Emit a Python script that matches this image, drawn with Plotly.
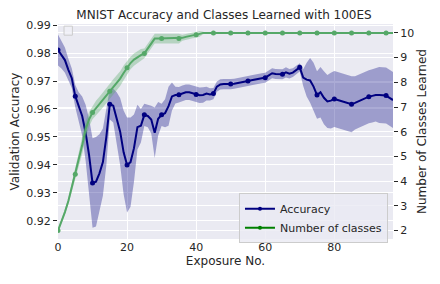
import numpy as np
import plotly.graph_objects as go
from plotly.subplots import make_subplots

exposure = list(range(98))

accuracy = [
    0.9811, 0.9795, 0.9775, 0.9740, 0.9710, 0.9646, 0.9610, 0.9575, 0.9515, 0.9435,
    0.9335, 0.9340, 0.9370, 0.9410, 0.9500, 0.9617, 0.9612, 0.9570, 0.9519, 0.9445,
    0.9400, 0.9410, 0.9460, 0.9535, 0.9540, 0.9579, 0.9575, 0.9562, 0.9515, 0.9565,
    0.9579, 0.9585, 0.9610, 0.9645, 0.9650, 0.9651, 0.9656, 0.9660, 0.9660, 0.9656,
    0.9652, 0.9649, 0.9650, 0.9655, 0.9652, 0.9655, 0.9680, 0.9688, 0.9689, 0.9688,
    0.9689, 0.9690, 0.9692, 0.9694, 0.9697, 0.9700, 0.9703, 0.9706, 0.9708, 0.9710,
    0.9712, 0.9720, 0.9728, 0.9725, 0.9724, 0.9724, 0.9731, 0.9726, 0.9730, 0.9740,
    0.9749, 0.9712, 0.9705, 0.9702, 0.9680, 0.9650, 0.9660, 0.9640, 0.9627, 0.9630,
    0.9636, 0.9632, 0.9628, 0.9624, 0.9620, 0.9617, 0.9622, 0.9628, 0.9634, 0.9640,
    0.9644, 0.9647, 0.9650, 0.9650, 0.9649, 0.9648, 0.9640, 0.9632,
]

accuracy_std = [
    0.0055, 0.0050, 0.0045, 0.0040, 0.0035, 0.0040, 0.0050, 0.0070, 0.0100, 0.0130,
    0.0160, 0.0160, 0.0140, 0.0120, 0.0100, 0.0055, 0.0060, 0.0090, 0.0120, 0.0150,
    0.0170, 0.0160, 0.0120, 0.0080, 0.0060, 0.0040, 0.0040, 0.0050, 0.0090, 0.0060,
    0.0040, 0.0050, 0.0070, 0.0050, 0.0030, 0.0028, 0.0028, 0.0028, 0.0028, 0.0028,
    0.0028, 0.0028, 0.0028, 0.0025, 0.0022, 0.0020, 0.0018, 0.0018, 0.0018, 0.0018,
    0.0018, 0.0018, 0.0018, 0.0018, 0.0018, 0.0018, 0.0018, 0.0018, 0.0018, 0.0018,
    0.0018, 0.0018, 0.0018, 0.0018, 0.0018, 0.0018, 0.0018, 0.0017, 0.0016, 0.0015,
    0.0015, 0.0030, 0.0060, 0.0080, 0.0085, 0.0085, 0.0090, 0.0095, 0.0095, 0.0100,
    0.0100, 0.0100, 0.0100, 0.0100, 0.0100, 0.0100, 0.0095, 0.0095, 0.0095, 0.0095,
    0.0095, 0.0095, 0.0095, 0.0100, 0.0100, 0.0100, 0.0100, 0.0100,
]

classes = [
    2.00, 2.35, 2.75, 3.20, 3.75, 4.28, 4.85, 5.45, 6.10, 6.50,
    6.78, 6.95, 7.12, 7.28, 7.45, 7.64, 7.82, 7.98, 8.15, 8.38,
    8.59, 8.78, 8.92, 9.02, 9.10, 9.17, 9.38, 9.60, 9.77, 9.77,
    9.77, 9.77, 9.77, 9.77, 9.77, 9.77, 9.80, 9.84, 9.88, 9.90,
    9.92, 9.96, 10.0, 10.0, 10.0, 10.0, 10.0, 10.0, 10.0, 10.0,
    10.0, 10.0, 10.0, 10.0, 10.0, 10.0, 10.0, 10.0, 10.0, 10.0,
    10.0, 10.0, 10.0, 10.0, 10.0, 10.0, 10.0, 10.0, 10.0, 10.0,
    10.0, 10.0, 10.0, 10.0, 10.0, 10.0, 10.0, 10.0, 10.0, 10.0,
    10.0, 10.0, 10.0, 10.0, 10.0, 10.0, 10.0, 10.0, 10.0, 10.0,
    10.0, 10.0, 10.0, 10.0, 10.0, 10.0, 10.0, 10.0,
]

classes_std = [
    0.05, 0.08, 0.10, 0.12, 0.15, 0.20, 0.30, 0.35, 0.35, 0.30,
    0.27, 0.30, 0.30, 0.30, 0.30, 0.30, 0.30, 0.30, 0.30, 0.30,
    0.28, 0.25, 0.25, 0.25, 0.25, 0.20, 0.20, 0.20, 0.20, 0.20,
    0.20, 0.20, 0.20, 0.20, 0.20, 0.20, 0.12, 0.12, 0.12, 0.12,
    0.12, 0.12, 0.05, 0.0, 0.0, 0.0, 0.0, 0.0, 0.0, 0.0,
    0.0, 0.0, 0.0, 0.0, 0.0, 0.0, 0.0, 0.0, 0.0, 0.0,
    0.0, 0.0, 0.0, 0.0, 0.0, 0.0, 0.0, 0.0, 0.0, 0.0,
    0.0, 0.0, 0.0, 0.0, 0.0, 0.0, 0.0, 0.0, 0.0, 0.0,
    0.0, 0.0, 0.0, 0.0, 0.0, 0.0, 0.0, 0.0, 0.0, 0.0,
    0.0, 0.0, 0.0, 0.0, 0.0, 0.0, 0.0, 0.0,
]

x_ticks = [0, 20, 40, 60, 80]
left_ticks = [0.92, 0.93, 0.94, 0.95, 0.96, 0.97, 0.98, 0.99]
right_ticks = [2, 3, 4, 5, 6, 7, 8, 9, 10]

NAVY = "#000080"
GREEN = "#55A868"
TXT = "#262626"
FONT = "DejaVu Sans"

acc = np.array(accuracy)
acc_s = np.array(accuracy_std)
cls = np.array(classes)
cls_s = np.array(classes_std)
xs = np.array(exposure)

fig = make_subplots(specs=[[{"secondary_y": True}]])

# accuracy band
fig.add_trace(go.Scatter(x=xs, y=acc + acc_s, mode="lines", line=dict(width=0),
                         showlegend=False, hoverinfo="skip"), secondary_y=False)
fig.add_trace(go.Scatter(x=xs, y=acc - acc_s, mode="lines", line=dict(width=0),
                         fill="tonexty", fillcolor="rgba(0,0,128,0.33)",
                         showlegend=False, hoverinfo="skip"), secondary_y=False)
fig.add_trace(go.Scatter(x=xs, y=acc, mode="lines", line=dict(color=NAVY, width=2),
                         showlegend=False), secondary_y=False)
fig.add_trace(go.Scatter(x=xs[::5], y=acc[::5], mode="markers",
                         marker=dict(color=NAVY, size=5), showlegend=False),
              secondary_y=False)

# classes band
fig.add_trace(go.Scatter(x=xs, y=cls + cls_s, mode="lines", line=dict(width=0),
                         showlegend=False, hoverinfo="skip"), secondary_y=True)
fig.add_trace(go.Scatter(x=xs, y=cls - cls_s, mode="lines", line=dict(width=0),
                         fill="tonexty", fillcolor="rgba(85,168,104,0.35)",
                         showlegend=False, hoverinfo="skip"), secondary_y=True)
fig.add_trace(go.Scatter(x=xs, y=cls, mode="lines", line=dict(color=GREEN, width=2),
                         showlegend=False), secondary_y=True)
fig.add_trace(go.Scatter(x=xs[::5], y=cls[::5], mode="markers",
                         marker=dict(color=GREEN, size=5), showlegend=False),
              secondary_y=True)

# legend entries
fig.add_trace(go.Scatter(x=[None], y=[None], mode="lines+markers", name="Accuracy",
                         line=dict(color=NAVY, width=2), marker=dict(color=NAVY, size=4)),
              secondary_y=False)
fig.add_trace(go.Scatter(x=[None], y=[None], mode="lines+markers", name="Number of classes",
                         line=dict(color="green", width=2), marker=dict(color="green", size=4)),
              secondary_y=False)

# the page body has an 8px margin, so the figure is 8px smaller and shifted
fig.update_layout(
    width=432, height=276,
    margin=dict(l=50, r=47, t=16, b=45),
    paper_bgcolor="white",
    plot_bgcolor="#EAEAF2",
    font=dict(family=FONT, size=11, color=TXT),
    title=dict(text="MNIST Accuracy and Classes Learned with 100ES",
               x=0.5, xanchor="center", y=0.976, yanchor="middle",
               font=dict(size=12, color=TXT)),
    legend=dict(x=0.985, y=-0.02, xanchor="right", yanchor="bottom",
                traceorder="normal",
                bgcolor="rgba(234,234,242,0.8)", bordercolor="#cccccc", borderwidth=1,
                font=dict(size=11, color=TXT), tracegroupgap=0),
    showlegend=True,
)

fig.update_xaxes(range=[0, 97], domain=[0, 1], tickvals=x_ticks, showgrid=True, gridcolor="white",
                 gridwidth=1, zeroline=False, showline=False, ticks="", automargin=False,
                 title=dict(text="Exposure No.", font=dict(size=12, color=TXT), standoff=3),
                 tickfont=dict(size=11, color=TXT))
fig.update_yaxes(range=[0.9135, 0.9904], tickvals=left_ticks, tickformat=".2f",
                 showgrid=True, gridcolor="white", gridwidth=1, zeroline=False,
                 ticks="outside", ticklen=4, tickcolor=TXT, showline=False, automargin=False,
                 title=dict(text="Validation Accuracy", font=dict(size=12, color=TXT), standoff=4),
                 tickfont=dict(size=11, color=TXT), secondary_y=False)
fig.update_yaxes(range=[1.66, 10.36], tickvals=right_ticks,
                 showgrid=True, gridcolor="white", gridwidth=1, zeroline=False,
                 ticks="outside", ticklen=4, tickcolor=TXT, showline=False, automargin=False,
                 title=dict(text="Number of Classes Learned", font=dict(size=12, color=TXT), standoff=4),
                 tickfont=dict(size=11, color=TXT), secondary_y=True)

# empty legend box in top-left corner
fig.add_shape(type="rect", xref="paper", yref="paper",
              x0=0.018, x1=0.043, y0=0.948, y1=0.99,
              line=dict(color="#cccccc", width=1), fillcolor="rgba(240,240,246,0.8)")

fig.write_html("out.html")
